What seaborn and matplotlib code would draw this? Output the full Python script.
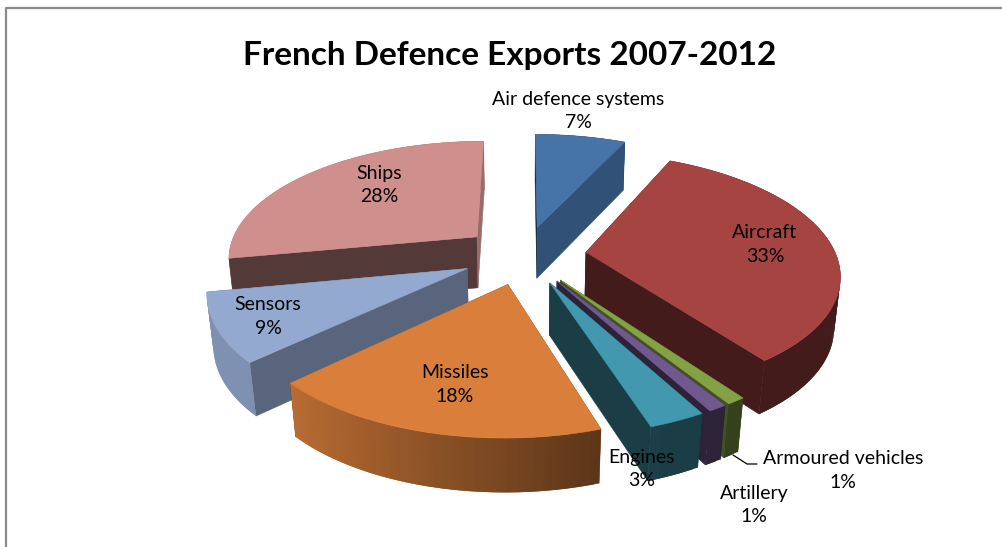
import numpy as np
import matplotlib
matplotlib.use("Agg")
import matplotlib.pyplot as plt
from matplotlib.collections import PolyCollection
from matplotlib.colors import to_rgb
import seaborn as sns

categories = ["Air defence systems", "Aircraft", "Armoured vehicles", "Artillery",
              "Engines", "Missiles", "Sensors", "Ships"]
shares = [7, 33, 1, 1, 3, 18, 9, 28]
slice_colors = ["#4673A8", "#A64442", "#84A146", "#71588F",
                "#4198AF", "#D97F3B", "#93A9CF", "#CF8F8D"]

# Brightness of the two straight cut faces of every slice.
start_face_shade = [0.30, 0.40, 0.40, 0.40, 0.40, 0.50, 0.60, 0.40]
end_face_shade = [0.70, 0.40, 0.50, 0.40, 0.40, 0.50, 0.60, 0.75]

# Painter's order, far slices first.
draw_order = [7, 0, 1, 6, 2, 3, 4, 5]

label_xy = {
    "Air defence systems": (578, 111), "Aircraft": (765, 245),
    "Armoured vehicles": (843, 470), "Artillery": (754, 505),
    "Engines": (642, 469), "Missiles": (455, 385),
    "Sensors": (268, 317), "Ships": (379, 185),
}

# Camera model of the tilted pie, in pixels of the canvas.
CX, CY = 524, 255
RADIUS, TILT, DEPTH = 250, 117, 52
PERSPECTIVE, SINK = 0.166, 0.02
EXPLODE = 0.25
BACK_RIM_LIMIT = -0.2


def project(x, y, z):
    w = 1 + PERSPECTIVE * y + SINK * z
    return np.column_stack([CX + RADIUS * x / w,
                            CY - TILT * y / w + DEPTH * z / w ** 0.6])


def shaded(color, k):
    return tuple(c * k for c in to_rgb(color))


def rim_collection(upper, lower, theta, color, subset):
    # Each strip reaches into the next one so no background shows at the seams.
    quads, colors = [], []
    for j in subset:
        end = min(j + 2, len(theta) - 1)
        quads.append([upper[j], upper[end], lower[end], lower[j]])
        k = float(np.clip(0.55 - 0.41 * np.sin((theta[j] + theta[j + 1]) / 2), 0.40, 0.86))
        colors.append(shaded(color, k))
    return PolyCollection(quads, facecolors=colors, edgecolors="none", linewidths=0)


sns.set_theme(style="white")
plt.rcParams["font.family"] = ["Lato", "DejaVu Sans"]

fig = plt.figure(figsize=(10.03, 5.47), dpi=100, facecolor="white")
ax = fig.add_axes([0, 0, 1, 1])
ax.set_xlim(0, 1003)
ax.set_ylim(547, 0)
ax.axis("off")
ax.plot([6.5, 6.5, 1003], [547, 7.5, 7.5], color="#8a8a8a", lw=1.6, solid_capstyle="butt")

palette = sns.color_palette(slice_colors)
fractions = np.array(shares) / sum(shares)
edges = np.concatenate([[0], np.cumsum(fractions)]) * 2 * np.pi

for i in draw_order:
    color = palette[i]
    a0, a1 = edges[i], edges[i + 1]
    mid = (a0 + a1) / 2
    ox, oy = EXPLODE * np.sin(mid), EXPLODE * np.cos(mid)
    theta = np.linspace(a0, a1, max(4, int((a1 - a0) * 60)))
    rx, ry = ox + np.sin(theta), oy + np.cos(theta)
    upper = project(rx, ry, np.zeros_like(rx))
    lower = project(rx, ry, np.ones_like(rx))

    strips = np.arange(len(theta) - 1)
    facing_back = np.cos(theta[:-1]) > BACK_RIM_LIMIT

    # Rim turned away from the viewer goes underneath everything else.
    ax.add_collection(rim_collection(upper, lower, theta, color, strips[facing_back]))

    # Straight cut faces
    for a, k in ((a0, start_face_shade[i]), (a1, end_face_shade[i])):
        px, py = ox + np.sin(a), oy + np.cos(a)
        quad = np.vstack([project(np.array([ox, px]), np.array([oy, py]), np.zeros(2)),
                          project(np.array([px, ox]), np.array([py, oy]), np.ones(2))])
        ax.fill(quad[:, 0], quad[:, 1], color=shaded(color, k), lw=0.4)

    # Front rim, lit from the left
    ax.add_collection(rim_collection(upper, lower, theta, color, strips[~facing_back]))

    # Top face
    top = np.vstack([project(np.array([ox]), np.array([oy]), np.zeros(1)), upper])
    ax.fill(top[:, 0], top[:, 1], color=color, lw=0.4)

# Leader line of the armoured vehicles label
ax.plot([733, 747, 757], [455, 464, 464], color="black", lw=0.9)

for name, share in zip(categories, shares):
    x, y = label_xy[name]
    ax.text(x, y, f"{name}\n{share}%", ha="center", va="center", fontsize=14,
            color="black", linespacing=1.5)

ax.text(510, 55, "French Defence Exports 2007-2012", ha="center", va="center",
        fontsize=24, fontweight="bold", color="black")

fig.savefig("out.png", dpi=100)
